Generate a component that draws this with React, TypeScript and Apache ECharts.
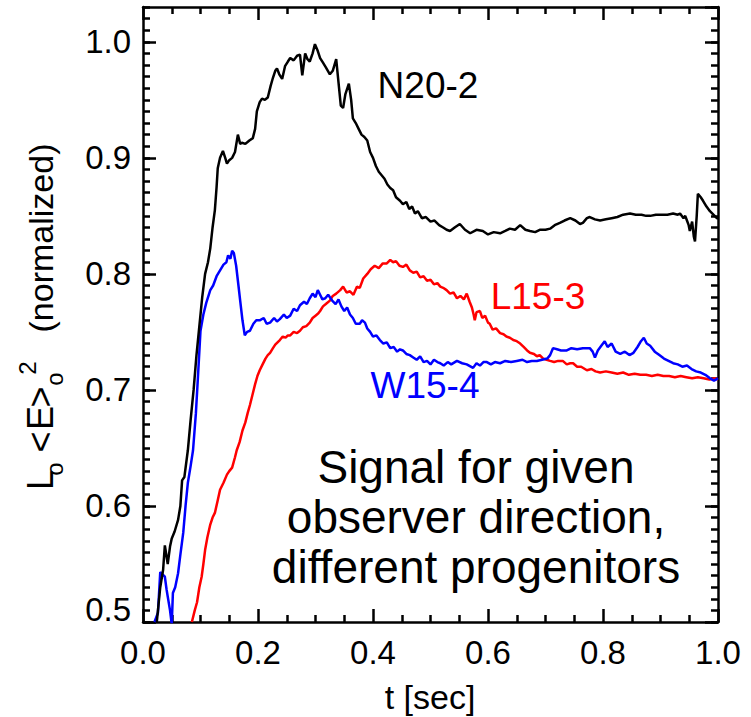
import React, { useEffect, useRef } from "react";
import * as echarts from "echarts";

// ---- Data (t [sec], L_o <E>_o^2 normalized) ----
const n20_2: [number, number][] = [
  [0.024, 0.5], [0.03, 0.53], [0.035, 0.545], [0.038, 0.566], [0.043, 0.55], [0.047, 0.565],
  [0.05, 0.572], [0.055, 0.578], [0.061, 0.588], [0.065, 0.6], [0.068, 0.622], [0.072, 0.625],
  [0.078, 0.648], [0.083, 0.675], [0.088, 0.7], [0.093, 0.73], [0.098, 0.755], [0.103, 0.78],
  [0.108, 0.8], [0.113, 0.81], [0.117, 0.822], [0.121, 0.84], [0.125, 0.855], [0.128, 0.875],
  [0.13, 0.891], [0.134, 0.9], [0.139, 0.906], [0.143, 0.9], [0.146, 0.895], [0.15, 0.898],
  [0.155, 0.9], [0.16, 0.905], [0.165, 0.92], [0.169, 0.912], [0.172, 0.913], [0.178, 0.912],
  [0.185, 0.915], [0.191, 0.917], [0.195, 0.925], [0.198, 0.94], [0.203, 0.948], [0.207, 0.951],
  [0.212, 0.95], [0.217, 0.952], [0.222, 0.962], [0.226, 0.969], [0.23, 0.975], [0.233, 0.977],
  [0.237, 0.972], [0.242, 0.968], [0.247, 0.979], [0.252, 0.983], [0.256, 0.986], [0.262, 0.984],
  [0.268, 0.988], [0.273, 0.989], [0.277, 0.971], [0.282, 0.99], [0.286, 0.985], [0.29, 0.983],
  [0.295, 0.99], [0.299, 0.998], [0.304, 0.992], [0.308, 0.986], [0.313, 0.982], [0.318, 0.978],
  [0.325, 0.972], [0.33, 0.975], [0.336, 0.985], [0.34, 0.965], [0.344, 0.945], [0.348, 0.943],
  [0.352, 0.955], [0.358, 0.964], [0.362, 0.95], [0.365, 0.934], [0.37, 0.93], [0.375, 0.925],
  [0.38, 0.92], [0.385, 0.918], [0.39, 0.915], [0.395, 0.905], [0.4, 0.9], [0.405, 0.893],
  [0.41, 0.888], [0.415, 0.885], [0.42, 0.882], [0.425, 0.877], [0.43, 0.874], [0.435, 0.872],
  [0.44, 0.866], [0.447, 0.863], [0.452, 0.86], [0.458, 0.862], [0.463, 0.856], [0.468, 0.858],
  [0.473, 0.852], [0.478, 0.854], [0.485, 0.848], [0.492, 0.849], [0.5, 0.845], [0.507, 0.846],
  [0.515, 0.842], [0.522, 0.84], [0.528, 0.838], [0.534, 0.837], [0.542, 0.84], [0.551, 0.843],
  [0.56, 0.838], [0.569, 0.835], [0.58, 0.838], [0.591, 0.837], [0.6, 0.834], [0.61, 0.836],
  [0.621, 0.835], [0.63, 0.837], [0.638, 0.839], [0.647, 0.838], [0.656, 0.842], [0.665, 0.838],
  [0.673, 0.837], [0.682, 0.836], [0.69, 0.838], [0.7, 0.838], [0.708, 0.839], [0.716, 0.842],
  [0.725, 0.844], [0.733, 0.846], [0.743, 0.848], [0.752, 0.846], [0.76, 0.843], [0.765, 0.844],
  [0.772, 0.848], [0.777, 0.849], [0.786, 0.847], [0.795, 0.846], [0.805, 0.847], [0.815, 0.848],
  [0.825, 0.849], [0.835, 0.851], [0.847, 0.852], [0.857, 0.851], [0.867, 0.851], [0.875, 0.85],
  [0.882, 0.85], [0.892, 0.851], [0.902, 0.851], [0.912, 0.851], [0.922, 0.852], [0.93, 0.851],
  [0.934, 0.852], [0.94, 0.848], [0.943, 0.85], [0.946, 0.846], [0.949, 0.842], [0.951, 0.837],
  [0.955, 0.845], [0.958, 0.832], [0.96, 0.828], [0.963, 0.85], [0.965, 0.869], [0.97, 0.866],
  [0.974, 0.863], [0.98, 0.858], [0.986, 0.854], [0.992, 0.851], [0.998, 0.848], [1.0, 0.848],
];

const w15_4: [number, number][] = [
  [0.02, 0.5], [0.026, 0.508], [0.03, 0.543], [0.034, 0.541], [0.038, 0.539], [0.041, 0.528],
  [0.043, 0.522], [0.047, 0.51], [0.05, 0.498], [0.052, 0.525], [0.056, 0.53], [0.061, 0.542],
  [0.065, 0.558], [0.07, 0.577], [0.074, 0.6], [0.078, 0.62], [0.083, 0.635], [0.087, 0.648],
  [0.092, 0.68], [0.096, 0.715], [0.1, 0.751], [0.105, 0.765], [0.11, 0.775], [0.117, 0.786],
  [0.122, 0.79], [0.128, 0.798], [0.134, 0.803], [0.14, 0.808], [0.145, 0.81], [0.148, 0.816],
  [0.152, 0.813], [0.155, 0.82], [0.158, 0.818], [0.162, 0.807], [0.166, 0.79], [0.169, 0.777],
  [0.173, 0.76], [0.177, 0.747], [0.181, 0.75], [0.186, 0.751], [0.192, 0.757], [0.197, 0.76],
  [0.203, 0.76], [0.21, 0.762], [0.215, 0.757], [0.221, 0.758], [0.228, 0.762], [0.233, 0.759],
  [0.238, 0.761], [0.245, 0.765], [0.25, 0.762], [0.256, 0.764], [0.262, 0.77], [0.268, 0.768],
  [0.273, 0.773], [0.28, 0.776], [0.285, 0.774], [0.29, 0.779], [0.295, 0.783], [0.3, 0.78],
  [0.304, 0.786], [0.308, 0.782], [0.312, 0.778], [0.317, 0.779], [0.322, 0.782], [0.329, 0.777],
  [0.335, 0.774], [0.34, 0.778], [0.345, 0.772], [0.35, 0.768], [0.355, 0.771], [0.36, 0.765],
  [0.365, 0.762], [0.37, 0.757], [0.377, 0.757], [0.381, 0.76], [0.386, 0.758], [0.39, 0.753],
  [0.395, 0.75], [0.4, 0.746], [0.406, 0.747], [0.412, 0.743], [0.418, 0.74], [0.424, 0.741],
  [0.43, 0.736], [0.436, 0.737], [0.442, 0.733], [0.447, 0.735], [0.452, 0.734], [0.458, 0.731],
  [0.464, 0.73], [0.47, 0.728], [0.476, 0.726], [0.482, 0.729], [0.488, 0.724], [0.494, 0.725],
  [0.5, 0.722], [0.506, 0.726], [0.512, 0.724], [0.517, 0.723], [0.523, 0.721], [0.53, 0.724],
  [0.536, 0.722], [0.546, 0.725], [0.555, 0.723], [0.563, 0.722], [0.574, 0.719], [0.58, 0.723],
  [0.586, 0.721], [0.592, 0.724], [0.598, 0.724], [0.605, 0.722], [0.612, 0.724], [0.621, 0.723],
  [0.63, 0.725], [0.64, 0.724], [0.65, 0.725], [0.66, 0.726], [0.668, 0.724], [0.676, 0.725],
  [0.685, 0.725], [0.694, 0.726], [0.703, 0.727], [0.708, 0.73], [0.713, 0.736], [0.72, 0.735],
  [0.727, 0.734], [0.737, 0.734], [0.745, 0.736], [0.755, 0.735], [0.765, 0.736], [0.777, 0.736],
  [0.782, 0.733], [0.786, 0.728], [0.791, 0.734], [0.797, 0.738], [0.803, 0.742], [0.808, 0.737],
  [0.815, 0.74], [0.822, 0.733], [0.83, 0.731], [0.838, 0.733], [0.846, 0.73], [0.853, 0.732],
  [0.86, 0.737], [0.866, 0.742], [0.871, 0.745], [0.876, 0.74], [0.882, 0.738], [0.89, 0.733],
  [0.898, 0.73], [0.906, 0.727], [0.914, 0.725], [0.922, 0.723], [0.93, 0.722], [0.938, 0.72],
  [0.946, 0.721], [0.954, 0.718], [0.962, 0.716], [0.97, 0.715], [0.978, 0.713], [0.986, 0.71],
  [0.993, 0.708], [1.0, 0.71],
];

const l15_3: [number, number][] = [
  [0.085, 0.5], [0.09, 0.51], [0.094, 0.517], [0.098, 0.53], [0.102, 0.539], [0.105, 0.55],
  [0.108, 0.562], [0.112, 0.573], [0.117, 0.584], [0.121, 0.59], [0.125, 0.594], [0.13, 0.605],
  [0.134, 0.614], [0.14, 0.62], [0.146, 0.627], [0.15, 0.63], [0.155, 0.633], [0.16, 0.642],
  [0.163, 0.648], [0.168, 0.655], [0.173, 0.665], [0.178, 0.672], [0.182, 0.68], [0.186, 0.687],
  [0.19, 0.695], [0.195, 0.705], [0.199, 0.712], [0.203, 0.717], [0.208, 0.722], [0.213, 0.727],
  [0.217, 0.73], [0.221, 0.732], [0.226, 0.736], [0.23, 0.739], [0.234, 0.741], [0.238, 0.743],
  [0.243, 0.746], [0.248, 0.745], [0.252, 0.747], [0.256, 0.747], [0.262, 0.75], [0.268, 0.749],
  [0.273, 0.751], [0.278, 0.754], [0.284, 0.755], [0.29, 0.758], [0.295, 0.762], [0.3, 0.764],
  [0.305, 0.766], [0.308, 0.768], [0.313, 0.772], [0.318, 0.774], [0.325, 0.777], [0.33, 0.781],
  [0.336, 0.783], [0.343, 0.786], [0.348, 0.789], [0.354, 0.784], [0.36, 0.785], [0.366, 0.782],
  [0.372, 0.789], [0.377, 0.788], [0.383, 0.796], [0.39, 0.8], [0.396, 0.804], [0.403, 0.807],
  [0.41, 0.805], [0.417, 0.809], [0.424, 0.809], [0.43, 0.812], [0.435, 0.81], [0.44, 0.811],
  [0.446, 0.807], [0.452, 0.806], [0.458, 0.808], [0.464, 0.803], [0.47, 0.801], [0.476, 0.802],
  [0.482, 0.797], [0.488, 0.798], [0.494, 0.794], [0.5, 0.795], [0.506, 0.791], [0.512, 0.792],
  [0.517, 0.789], [0.522, 0.788], [0.528, 0.786], [0.534, 0.783], [0.54, 0.784], [0.546, 0.779],
  [0.552, 0.781], [0.558, 0.778], [0.563, 0.783], [0.568, 0.776], [0.572, 0.771], [0.575, 0.765],
  [0.577, 0.76], [0.58, 0.767], [0.586, 0.768], [0.59, 0.762], [0.595, 0.764], [0.6, 0.758],
  [0.603, 0.757], [0.608, 0.752], [0.614, 0.753], [0.621, 0.749], [0.627, 0.748], [0.632, 0.746],
  [0.638, 0.745], [0.644, 0.743], [0.65, 0.742], [0.656, 0.74], [0.662, 0.737], [0.668, 0.734],
  [0.673, 0.732], [0.68, 0.731], [0.685, 0.729], [0.69, 0.73], [0.696, 0.727], [0.702, 0.726],
  [0.708, 0.725], [0.715, 0.724], [0.722, 0.725], [0.73, 0.725], [0.737, 0.722], [0.743, 0.723],
  [0.748, 0.723], [0.755, 0.72], [0.762, 0.72], [0.772, 0.717], [0.78, 0.718], [0.787, 0.716],
  [0.795, 0.715], [0.805, 0.716], [0.815, 0.715], [0.825, 0.714], [0.835, 0.715], [0.845, 0.713],
  [0.855, 0.714], [0.865, 0.713], [0.875, 0.713], [0.885, 0.712], [0.895, 0.713], [0.905, 0.712],
  [0.915, 0.712], [0.925, 0.711], [0.935, 0.712], [0.945, 0.711], [0.955, 0.71], [0.965, 0.711],
  [0.975, 0.71], [0.985, 0.709], [0.995, 0.71], [1.0, 0.709],
];

const seriesNames = ["N20-2", "W15-4", "L15-3"];
const seriesColors = ["#000000", "#0000ff", "#ff0000"];
const xRange = [0, 1];
const yRange = [0.5, 1.03];
const xTitle = "t [sec]";
const noteLines = ["Signal for given", "observer direction,", "different progenitors"];

const FONT = "'Liberation Sans', Arial, Helvetica, sans-serif";

export default function App() {
  const ref = useRef<HTMLDivElement>(null);

  useEffect(() => {
    if (!ref.current) return;
    const chart = echarts.init(ref.current, undefined, { renderer: "svg" });

    const axisLine = { show: true, lineStyle: { color: "#000", width: 2.5 } };
    const xCommon = {
      type: "value" as const,
      min: xRange[0],
      max: xRange[1],
      interval: 0.2,
      axisLine,
      axisTick: { show: true, inside: true, length: 13, lineStyle: { color: "#000", width: 2.5 } },
      minorTick: { show: true, splitNumber: 4, length: 7, lineStyle: { color: "#000", width: 2.5 } },
      splitLine: { show: false },
    };
    const yMajor = {
      type: "value" as const,
      min: yRange[0],
      max: yRange[1],
      interval: 0.1,
      axisLine,
      axisTick: { show: true, inside: true, length: 13, lineStyle: { color: "#000", width: 2.5 } },
      splitLine: { show: false },
    };
    const yMinor = {
      type: "value" as const,
      min: yRange[0],
      max: yRange[1],
      interval: 0.01,
      axisLine: { show: false },
      axisLabel: { show: false },
      axisTick: { show: true, inside: true, length: 7, lineStyle: { color: "#000", width: 2.5 } },
      splitLine: { show: false },
    };

    const lines = [n20_2, w15_4, l15_3];

    const yLabelParts = [
      { t: "L", x: 40, y: 480, s: 36 },
      { t: "o", x: 54, y: 469, s: 24 },
      { t: "<", x: 40, y: 442, s: 36 },
      { t: "E", x: 40, y: 418, s: 36 },
      { t: ">", x: 40, y: 397, s: 36 },
      { t: "o", x: 54, y: 379, s: 24 },
      { t: "2", x: 27, y: 368, s: 24 },
      { t: "(normalized)", x: 41, y: 238, s: 34 },
    ];

    chart.setOption({
      animation: false,
      backgroundColor: "#ffffff",
      textStyle: { fontFamily: FONT },
      grid: { left: 143, top: 7, right: 33, bottom: 95, containLabel: false },
      xAxis: [
        {
          ...xCommon,
          position: "bottom",
          axisLabel: {
            show: true,
            color: "#000",
            fontSize: 33,
            fontFamily: FONT,
            margin: 14,
            formatter: (v: number) => v.toFixed(1),
          },
        },
        { ...xCommon, position: "top", axisLabel: { show: false } },
      ],
      yAxis: [
        {
          ...yMajor,
          position: "left",
          axisLabel: {
            show: true,
            color: "#000",
            fontSize: 33,
            fontFamily: FONT,
            margin: 12,
            showMaxLabel: false,
            formatter: (v: number) => (Math.abs(v - 0.5) < 1e-9 ? "{low|0.5}" : v.toFixed(1)),
            rich: { low: { fontSize: 33, fontFamily: FONT, color: "#000", padding: [0, 0, 26, 0] } },
          },
        },
        { ...yMinor, position: "left" },
        { ...yMajor, position: "right", axisLabel: { show: false } },
        { ...yMinor, position: "right" },
      ],
      series: lines.map((d, i) => ({
        name: seriesNames[i],
        type: "line",
        data: d,
        xAxisIndex: 0,
        yAxisIndex: 0,
        showSymbol: false,
        symbol: "none",
        clip: true,
        lineStyle: { color: seriesColors[i], width: 2.5 },
        z: 3 - i,
      })),
      graphic: [
        ...yLabelParts.map((p) => ({
          type: "text",
          x: p.x,
          y: p.y,
          rotation: Math.PI / 2,
          style: {
            text: p.t,
            fontSize: p.s,
            fontFamily: FONT,
            fill: "#000",
            align: "center",
            verticalAlign: "middle",
          },
        })),
        {
          type: "text",
          x: 430,
          y: 697,
          style: { text: xTitle, fontSize: 34, fontFamily: FONT, fill: "#000", align: "center", verticalAlign: "middle" },
        },
        {
          type: "text",
          x: 428,
          y: 85,
          style: { text: seriesNames[0], fontSize: 37, fontFamily: FONT, fill: seriesColors[0], align: "center", verticalAlign: "middle" },
        },
        {
          type: "text",
          x: 425,
          y: 385,
          style: { text: seriesNames[1], fontSize: 37, fontFamily: FONT, fill: seriesColors[1], align: "center", verticalAlign: "middle" },
        },
        {
          type: "text",
          x: 538,
          y: 296,
          style: { text: seriesNames[2], fontSize: 37, fontFamily: FONT, fill: seriesColors[2], align: "center", verticalAlign: "middle" },
        },
        ...noteLines.map((t, i) => ({
          type: "text",
          x: 476,
          y: 467 + i * 50,
          style: { text: t, fontSize: 46, fontFamily: FONT, fill: "#000", align: "center", verticalAlign: "middle" },
        })),
      ],
    });

    return () => chart.dispose();
  }, []);

  return (
    <div
      ref={ref}
      style={{ position: "fixed", left: 0, top: 0, width: 751, height: 717, background: "#fff" }}
    />
  );
}
